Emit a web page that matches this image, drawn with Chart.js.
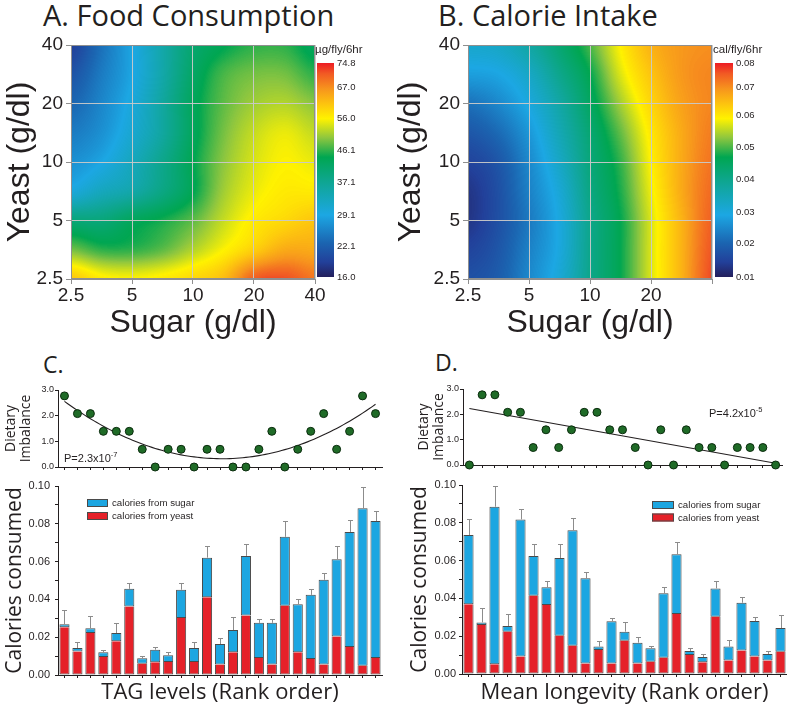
<!DOCTYPE html>
<html><head><meta charset="utf-8">
<script src="https://cdn.jsdelivr.net/npm/chart.js@4.4.1/dist/chart.umd.min.js"></script>
<style>
html,body{margin:0;padding:0;background:#fff}
body{width:787px;height:706px;position:relative;overflow:hidden}
canvas{position:absolute;left:0;top:0}
.t{position:absolute;font-family:'Open Sans',sans-serif;color:#231f20;white-space:nowrap}
</style></head><body>
<div class="t" style="left:43px;top:0px;font-size:29px;line-height:29px">A. Food Consumption</div>
<div class="t" style="left:438px;top:0px;font-size:29px;line-height:29px">B. Calorie Intake</div>
<div class="t" style="left:43px;top:353px;font-size:23px;line-height:23px">C.</div>
<div class="t" style="left:435px;top:351px;font-size:23px;line-height:23px">D.</div>
<canvas id="cA" width="787" height="706"></canvas>
<canvas id="cB" width="787" height="706"></canvas>
<canvas id="cC1" width="787" height="706"></canvas>
<canvas id="cC2" width="787" height="706"></canvas>
<canvas id="cD1" width="787" height="706"></canvas>
<canvas id="cD2" width="787" height="706"></canvas>
<script>
// ---------------- DATA ----------------
// Heat maps: sugar (columns) x yeast (rows, from 2.5 upward), g/dl
const sugarLevels = [2.5, 3.54, 5, 7.07, 10, 14.1, 20, 28.3, 40];
const yeastLevels = [2.5, 3.54, 5, 7.07, 10, 14.1, 20, 28.3, 40];
const sugarTicks = [2.5, 5, 10, 20, 40];
const sugarTickLabelsA = ['2.5', '5', '10', '20', '40'];
const sugarTickLabelsB = ['2.5', '5', '10', '20', ''];
const yeastTicks = [2.5, 5, 10, 20, 40];
const yeastTickLabels = ['2.5', '5', '10', '20', '40'];
// Food consumption, ug/fly/6hr
const foodGrid = [
  [61, 57, 56, 57, 59, 62, 71, 72, 69],
  [49, 46, 46, 48, 52, 56, 60, 64, 64],
  [40, 40, 43, 45, 48, 53, 57, 59, 61],
  [30, 33, 35, 39, 44, 51, 55, 57, 57],
  [27, 29, 33, 38, 44, 50, 54, 56, 55],
  [25, 27, 31, 36, 43, 49, 53, 55, 53],
  [23, 26, 30, 36, 43, 48, 51, 52, 50],
  [21, 25, 29, 35, 42, 47, 49, 49, 46],
  [19, 24, 29, 35, 41, 44, 46, 46, 43]
];
// Calorie intake, cal/fly/6hr
const calorieGrid = [
  [0.017, 0.019, 0.025, 0.031, 0.040, 0.047, 0.057, 0.066, 0.077],
  [0.015, 0.018, 0.024, 0.030, 0.040, 0.047, 0.057, 0.066, 0.076],
  [0.013, 0.017, 0.023, 0.030, 0.040, 0.047, 0.057, 0.066, 0.075],
  [0.013, 0.017, 0.024, 0.031, 0.041, 0.048, 0.058, 0.067, 0.074],
  [0.015, 0.018, 0.025, 0.033, 0.042, 0.049, 0.059, 0.067, 0.073],
  [0.018, 0.021, 0.027, 0.035, 0.043, 0.051, 0.060, 0.067, 0.072],
  [0.022, 0.025, 0.030, 0.037, 0.045, 0.054, 0.062, 0.068, 0.071],
  [0.028, 0.029, 0.033, 0.040, 0.047, 0.057, 0.064, 0.069, 0.071],
  [0.032, 0.033, 0.037, 0.043, 0.050, 0.059, 0.066, 0.069, 0.070]
];
const foodScaleTicks = [16.0, 22.1, 29.1, 37.1, 46.1, 56.0, 67.0, 74.8];
const calorieScaleTicks = [0.01, 0.02, 0.03, 0.04, 0.05, 0.06, 0.07, 0.08];

// Rank order categories
const ranks = [1,2,3,4,5,6,7,8,9,10,11,12,13,14,15,16,17,18,19,20,21,22,23,24,25];
// C: ordered by TAG levels
const imbalanceC = [2.77,2.08,2.08,1.39,1.39,1.39,0.69,0,0.69,0.69,0,0.69,0.69,0,0,0.69,1.39,0,0.69,1.39,2.08,0.69,1.39,2.77,2.08];
const yeastCalC = [0.0252,0.0125,0.0222,0.0095,0.0178,0.0363,0.0060,0.0067,0.0069,0.0301,0.0069,0.0412,0.0055,0.0120,0.0315,0.0090,0.0055,0.0366,0.0121,0.0085,0.0055,0.0204,0.0148,0.0049,0.0090];
const sugarCalC = [0.0017,0.0018,0.0026,0.0025,0.0044,0.0093,0.0028,0.0067,0.0035,0.0150,0.0074,0.0209,0.0109,0.0118,0.0315,0.0186,0.0221,0.0365,0.0254,0.0339,0.0449,0.0409,0.0609,0.0833,0.0725];
const errC = [0.0076,0.0031,0.0065,0.0014,0.0053,0.0030,0.0012,0.0014,0.0017,0.0038,0.0031,0.0064,0.0030,0.0070,0.0062,0.0022,0.0022,0.0084,0.0028,0.0032,0.0035,0.0070,0.0063,0.0113,0.0053];
// D: ordered by mean longevity
const imbalanceD = [0,2.77,2.77,2.08,2.08,0.69,1.39,0.69,1.39,2.08,2.08,1.39,1.39,0.69,0,1.39,0,1.39,0.69,0.69,0,0.69,0.69,0.69,0];
const fitLineDRank = [1, 25];
const fitLineDValue = [2.23, 0.07];
const yeastCalD = [0.0369,0.0259,0.0051,0.0224,0.0092,0.0414,0.0365,0.0203,0.0150,0.0056,0.0127,0.0056,0.0176,0.0056,0.0065,0.0086,0.0317,0.0101,0.0062,0.0303,0.0071,0.0125,0.0092,0.0071,0.0118];
const sugarCalD = [0.0366,0.0014,0.0834,0.0030,0.0726,0.0210,0.0094,0.0411,0.0610,0.0450,0.0018,0.0223,0.0048,0.0110,0.0071,0.0341,0.0316,0.0021,0.0028,0.0150,0.0074,0.0252,0.0188,0.0035,0.0125];
const errD = [0.0083,0.0078,0.0110,0.0062,0.0053,0.0062,0.0033,0.0072,0.0064,0.0032,0.0031,0.0019,0.0053,0.0032,0.0014,0.0032,0.0064,0.0014,0.0014,0.0039,0.0035,0.0029,0.0023,0.0017,0.0069];

// ---------------- STYLE / HELPERS ----------------
Chart.defaults.font.family = "'Liberation Sans', Arial, sans-serif";
Chart.defaults.color = '#231f20';
Chart.defaults.animation = false;
Chart.defaults.responsive = false;
Chart.defaults.plugins.legend.display = false;
Chart.defaults.plugins.tooltip.enabled = false;

const rainbow = [
  [0.00,'#231f5c'],[0.07,'#22409a'],[0.16,'#1b65b1'],[0.29,'#1ca7e3'],
  [0.43,'#10a69a'],[0.56,'#00a651'],[0.65,'#8dc63f'],[0.74,'#fff200'],
  [0.81,'#fdc30f'],[0.88,'#f7941d'],[0.95,'#f15a24'],[1.00,'#ed1c24']];
const LUT = (function(){
  const c = document.createElement('canvas'); c.width = 512; c.height = 1;
  const x = c.getContext('2d'); const g = x.createLinearGradient(0,0,512,0);
  rainbow.forEach(([f,col]) => g.addColorStop(f,col));
  x.fillStyle = g; x.fillRect(0,0,512,1);
  return x.getImageData(0,0,512,1).data;
})();
function cr(p0,p1,p2,p3,t){return 0.5*(2*p1+(-p0+p2)*t+(2*p0-5*p1+4*p2-p3)*t*t+(-p0+3*p1-3*p2+p3)*t*t*t);}
function fracIndex(levels, v){
  const lv = Math.log(v);
  for (let k=0;k<levels.length-1;k++){
    const a=Math.log(levels[k]), b=Math.log(levels[k+1]);
    if (lv<=b || k===levels.length-2) return Math.max(0, Math.min(levels.length-1, k+(lv-a)/(b-a)));
  }
  return 0;
}
function sampleGrid(g,u,w){
  const nr=g.length, nc=g[0].length;
  const j=Math.min(Math.floor(u),nc-2), tu=u-j, i=Math.min(Math.floor(w),nr-2), tw=w-i;
  const rows=[];
  for(let k=-1;k<=2;k++){
    const r=g[Math.max(0,Math.min(nr-1,i+k))];
    const c=m=>r[Math.max(0,Math.min(nc-1,m))];
    rows.push(cr(c(j-1),c(j),c(j+1),c(j+2),tu));
  }
  return cr(rows[0],rows[1],rows[2],rows[3],tw);
}
function valueToFrac(v, ticks, fracs){
  if (v<=ticks[0]) return 0;
  for(let k=0;k<ticks.length-1;k++){
    if (v<=ticks[k+1]) return fracs[k]+(fracs[k+1]-fracs[k])*(v-ticks[k])/(ticks[k+1]-ticks[k]);
  }
  return 1;
}

function heatPlugin(cfg){
  return {
    id:'heat'+cfg.key,
    beforeDraw(chart){
      const {ctx, chartArea:a, scales:{x,y}} = chart;
      const pts = chart.data.datasets[0].data;
      const nc = sugarLevels.length, nr = yeastLevels.length;
      const g = []; for(let i=0;i<nr;i++){ g.push(pts.slice(i*nc,(i+1)*nc).map(p=>p.v)); }
      const L=Math.round(a.left), T=Math.round(a.top), W=Math.round(a.right)-L, H=Math.round(a.bottom)-T;
      const img = ctx.createImageData(W,H);
      const us=[]; for(let px=0;px<W;px++){ us.push(fracIndex(sugarLevels, x.getValueForPixel(L+px+0.5))); }
      for(let py=0;py<H;py++){
        const w = fracIndex(yeastLevels, y.getValueForPixel(T+py+0.5));
        for(let px=0;px<W;px++){
          const v = sampleGrid(g, us[px], w);
          const f = valueToFrac(v, cfg.ticks, cfg.fracs);
          const li = Math.max(0,Math.min(511,Math.round(f*511)))*4;
          const o=(py*W+px)*4;
          img.data[o]=LUT[li]; img.data[o+1]=LUT[li+1]; img.data[o+2]=LUT[li+2]; img.data[o+3]=255;
        }
      }
      ctx.putImageData(img, L, T);
    },
    afterDraw(chart){
      const {ctx, chartArea:a} = chart;
      ctx.save();
      ctx.strokeStyle='#8f8f8f'; ctx.lineWidth=1;
      ctx.strokeRect(Math.round(a.left)+0.5, Math.round(a.top)+0.5, Math.round(a.right-a.left)-1, Math.round(a.bottom-a.top)-1);
      const cb = cfg.cb;
      const gr = ctx.createLinearGradient(0, cb.y+cb.h, 0, cb.y);
      rainbow.forEach(([f,col]) => gr.addColorStop(f,col));
      ctx.fillStyle = gr; ctx.fillRect(cb.x, cb.y, cb.w, cb.h);
      ctx.fillStyle = '#231f20'; ctx.font = "9.5px 'Liberation Sans'"; ctx.textBaseline='middle'; ctx.textAlign='left';
      cfg.ticks.forEach((t,k)=>{ ctx.fillText(t.toFixed(cfg.dec), cb.x+cb.w+3, cb.y+cb.h-cfg.fracs[k]*cb.h); });
      ctx.font = "11.5px 'Liberation Sans'";
      ctx.fillText(cfg.unit, cb.x-2, cb.y-13);
      ctx.restore();
    }
  };
}

function heatChart(id, grid, xLabels, pad, yw, cfg){
  const pts=[]; yeastLevels.forEach((yv,i)=>sugarLevels.forEach((xv,j)=>pts.push({x:xv,y:yv,v:grid[i][j]})));
  const gridOpt = {color:'rgba(200,200,200,0.95)', tickLength:5, tickColor:'#8f8f8f'};
  return new Chart(document.getElementById(id), {
    type:'scatter',
    data:{datasets:[{data:pts, pointRadius:0, pointHoverRadius:0}]},
    options:{
      layout:{padding:pad},
      scales:{
        x:{type:'logarithmic', min:2.5, max:40,
           afterBuildTicks:s=>{s.ticks=sugarTicks.map(v=>({value:v}));},
           ticks:{callback:(v,i)=>xLabels[i], font:{size:19}, padding:0, maxRotation:0, autoSkip:false},
           grid:gridOpt, border:{color:'#8f8f8f'},
           title:{display:true, text:'Sugar (g/dl)', font:{size:32}, padding:{top:0,bottom:3}},
           afterFit:s=>{s.height=66;}},
        y:{type:'logarithmic', min:2.5, max:40,
           afterBuildTicks:s=>{s.ticks=yeastTicks.map(v=>({value:v}));},
           ticks:{callback:(v,i)=>yeastTickLabels[i], font:{size:19}, padding:3, autoSkip:false},
           grid:gridOpt, border:{color:'#8f8f8f'},
           title:{display:true, text:'Yeast (g/dl)', font:{size:32}, padding:{top:1,bottom:0}},
           afterFit:s=>{s.width=yw;}}
      }
    },
    plugins:[heatPlugin(cfg)]
  });
}

heatChart('cA', foodGrid, sugarTickLabelsA, {left:0, top:45, right:472, bottom:361}, 71,
  {key:'A', ticks:foodScaleTicks, fracs:[0,0.141,0.290,0.441,0.591,0.739,0.888,1], dec:1, unit:'\u00b5g/fly/6hr', cb:{x:317,y:63,w:17,h:214}});
heatChart('cB', calorieGrid, sugarTickLabelsB, {left:391, top:45, right:75, bottom:361}, 77,
  {key:'B', ticks:calorieScaleTicks, fracs:[0,0.155,0.301,0.456,0.606,0.757,0.887,1], dec:2, unit:'cal/fly/6hr', cb:{x:715,y:63,w:18,h:214}});

// ---------- Scatter (dietary imbalance) ----------
function quadFit(xs, ys){
  let S=[0,0,0,0,0], T=[0,0,0];
  xs.forEach((x,i)=>{ for(let p=0;p<5;p++) S[p]+=Math.pow(x,p); for(let p=0;p<3;p++) T[p]+=ys[i]*Math.pow(x,p); });
  const M=[[S[0],S[1],S[2],T[0]],[S[1],S[2],S[3],T[1]],[S[2],S[3],S[4],T[2]]];
  for(let c=0;c<3;c++){ for(let r=c+1;r<3;r++){ const f=M[r][c]/M[c][c]; for(let k=c;k<4;k++) M[r][k]-=f*M[c][k]; } }
  const b=[0,0,0]; for(let r=2;r>=0;r--){ let s=M[r][3]; for(let k=r+1;k<3;k++) s-=M[r][k]*b[k]; b[r]=s/M[r][r]; }
  return b;
}
function pPlugin(key, dx, dy, base, sup){
  return {id:'pval'+key, afterDraw(chart){
    const {ctx, chartArea:a} = chart; ctx.save(); ctx.fillStyle='#231f20'; ctx.textBaseline='alphabetic'; ctx.textAlign='left';
    ctx.font="11px 'Liberation Sans'"; ctx.fillText(base, a.left+dx, a.top+dy);
    const w = ctx.measureText(base).width;
    ctx.font="7.5px 'Liberation Sans'"; ctx.fillText(sup, a.left+dx+w, a.top+dy-5.5);
    ctx.restore(); }};
}
function scatterChart(id, values, fit, pad, yw, tp, plug){
  return new Chart(document.getElementById(id), {
    type:'scatter',
    data:{datasets:[
      {data:values.map((v,i)=>({x:ranks[i], y:v})), pointRadius:4, pointBackgroundColor:'#1f6b27', pointBorderColor:'#0b2c0e', pointBorderWidth:1, clip:false, order:0},
      {data:fit, showLine:true, pointRadius:0, borderColor:'#231f20', borderWidth:1.1, fill:false, clip:false, order:1}
    ]},
    options:{
      layout:{padding:pad},
      scales:{
        x:{type:'linear', min:0.5, max:25.5, afterBuildTicks:s=>{s.ticks=ranks.map(v=>({value:v}));},
           ticks:{display:false}, grid:{drawOnChartArea:false, tickLength:3, color:'#231f20'}, border:{color:'#231f20'},
           afterFit:s=>{s.height=8;}},
        y:{min:0, max:3, ticks:{stepSize:1, callback:v=>v.toFixed(1), font:{size:9}, padding:tp},
           grid:{drawOnChartArea:false, tickLength:3, color:'#231f20'}, border:{color:'#231f20'},
           title:{display:true, text:['Dietary','Imbalance'], font:{family:"'Open Sans'", size:14, lineHeight:1.07}, padding:{top:3.5,bottom:0}},
           afterFit:s=>{s.width=yw;}}
      }
    },
    plugins:[plug]
  });
}
const coefC = quadFit(ranks, imbalanceC);
const fitC = []; for(let k=0;k<=96;k++){ const x=1+k*0.25; fitC.push({x, y:coefC[0]+coefC[1]*x+coefC[2]*x*x}); }
scatterChart('cC1', imbalanceC, fitC, {left:0, top:390, right:405, bottom:231}, 58, 1, pPlugin('C', 6, 72, 'P=2.3x10', '-7'));
const fitD = fitLineDRank.map((x,i)=>({x, y:fitLineDValue[i]}));
scatterChart('cD1', imbalanceD, fitD, {left:413, top:389, right:0, bottom:233}, 50, 1, pPlugin('D', 246, 28, 'P=4.2x10', '-5'));

// ---------- Stacked bars ----------
const errPlugin = {id:'errBars', afterDatasetsDraw(chart){
  const {ctx, scales:{y}} = chart; const d0=chart.data.datasets[0], d1=chart.data.datasets[1];
  const m1 = chart.getDatasetMeta(1);
  ctx.save(); ctx.strokeStyle='#8c8c8c'; ctx.lineWidth=1;
  d1.errors.forEach((e,i)=>{
    const tot = d0.data[i]+d1.data[i]; const x = Math.round(m1.data[i].x)+0.5;
    const y0 = y.getPixelForValue(tot), y1 = Math.round(y.getPixelForValue(tot+e))+0.5;
    ctx.beginPath(); ctx.moveTo(x,y0); ctx.lineTo(x,y1); ctx.moveTo(x-2.5,y1); ctx.lineTo(x+2.5,y1); ctx.stroke();
  });
  ctx.restore(); }};
function legendPlugin(key, lx, ly, w, h, dy){
  return {id:'leg'+key, afterDraw(chart){
    const ctx=chart.ctx; ctx.save();
    chart.data.datasets.slice().reverse().forEach((d,i)=>{
      const by = ly+i*dy;
      ctx.fillStyle=d.backgroundColor; ctx.fillRect(lx,by,w,h);
      ctx.strokeStyle='#4a4a4a'; ctx.lineWidth=1; ctx.strokeRect(lx+0.5,by+0.5,w-1,h-1);
      ctx.fillStyle='#231f20'; ctx.font="9.7px 'Liberation Sans'"; ctx.textBaseline='middle'; ctx.textAlign='left';
      ctx.fillText(d.label, lx+w+4, by+h/2+0.5);
    });
    ctx.restore(); }};
}
function barChart(id, yeast, sugar, err, xTitle, pad, yw, xh, tp, leg){
  return new Chart(document.getElementById(id), {
    type:'bar',
    data:{labels:ranks, datasets:[
      {label:'calories from yeast', data:yeast, backgroundColor:'#e52129', borderColor:'#4a4a4a', borderWidth:{top:0,left:1,right:1,bottom:1}, borderSkipped:false, barPercentage:0.78, categoryPercentage:1},
      {label:'calories from sugar', data:sugar, errors:err, backgroundColor:'#1ca6e1', borderColor:'#4a4a4a', borderWidth:1, borderSkipped:false, barPercentage:0.78, categoryPercentage:1}
    ]},
    options:{
      layout:{padding:pad},
      scales:{
        x:{stacked:true, ticks:{display:false}, grid:{drawOnChartArea:false, tickLength:3, color:'#231f20', offset:false}, border:{color:'#231f20'},
           title:{display:true, text:xTitle, font:{family:"'Open Sans'", size:22}, padding:{top:0,bottom:0}},
           afterFit:s=>{s.height=xh;}},
        y:{stacked:true, min:0, max:0.1, ticks:{stepSize:0.01, callback:(v,i)=>(i%2===0? v.toFixed(2):''), font:{size:11}, padding:tp, autoSkip:false},
           grid:{drawOnChartArea:false, tickLength:3, color:'#231f20'}, border:{color:'#231f20'},
           title:{display:true, text:'Calories consumed', font:{family:"'Open Sans'", size:21}, padding:{top:2.4,bottom:0}},
           afterFit:s=>{s.width=yw;}}
      }
    },
    plugins:[errPlugin, leg]
  });
}
barChart('cC2', yeastCalC, sugarCalC, errC, 'TAG levels (Rank order)', {left:0, top:486, right:405, bottom:0}, 58, 31, 5, legendPlugin('C', 87, 499, 21, 8, 13));
barChart('cD2', yeastCalD, sugarCalD, errD, 'Mean longevity (Rank order)', {left:405, top:485, right:0, bottom:0}, 57, 32, 3, legendPlugin('D', 652, 501, 22, 8, 12.5));
</script>
</body></html>
